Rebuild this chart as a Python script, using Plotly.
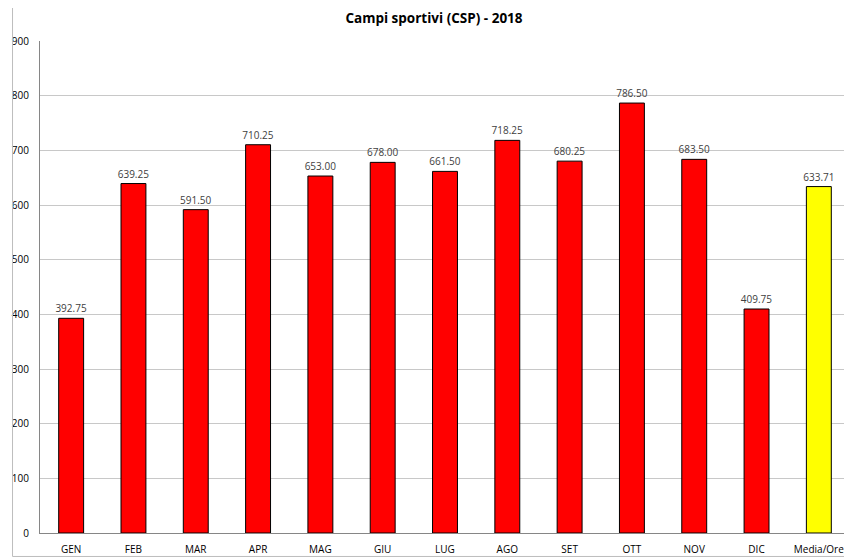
import plotly.graph_objects as go

categories = ["GEN", "FEB", "MAR", "APR", "MAG", "GIU", "LUG", "AGO", "SET", "OTT", "NOV", "DIC", "Media/Ore"]
values = [392.75, 639.25, 591.50, 710.25, 653.00, 678.00, 661.50, 718.25, 680.25, 786.50, 683.50, 409.75, 633.71]
colors = ["#FF0000"] * 12 + ["#FFFF00"]
y_ticks = [0, 100, 200, 300, 400, 500, 600, 700, 800, 900]

# page body has an 8px margin; compensate so the screenshot lines up
OFF = 8
W, H = 852, 559
L, R, T, B = 39.5 - OFF, 850 - OFF, 41 - OFF, 533.5 - OFF

FONT = "Open Sans, Liberation Sans, sans-serif"

fig = go.Figure(go.Bar(
    x=categories, y=values,
    marker=dict(color=colors, line=dict(color="#000000", width=1)),
    text=[f"{v:.2f}" for v in values],
    textposition="outside",
    constraintext="none",
    textfont=dict(family=FONT, size=10, color="#404040"),
    cliponaxis=False,
    width=0.4,
))

pw = R - L
ph = B - T
fig.update_layout(
    width=W, height=H,
    margin=dict(l=L, r=W - R, t=T, b=H - B, pad=0, autoexpand=False),
    paper_bgcolor="white", plot_bgcolor="white",
    showlegend=False,
    title=dict(text="<b>Campi sportivi (CSP) - 2018</b>", x=(434 - OFF) / W, xanchor="center",
               y=1 - (18 - OFF) / H, yanchor="middle",
               font=dict(family=FONT, size=13.5, color="#000000")),
    xaxis=dict(showline=True, linecolor="#868686", linewidth=1, ticks="", showgrid=False,
               tickfont=dict(family=FONT, size=10, color="#000000"),
               ticklabelstandoff=7, automargin=False,
               range=[-0.5, 12.5]),
    yaxis=dict(range=[0, 900], tickvals=y_ticks, showline=True, linecolor="#868686", linewidth=1,
               showgrid=True, gridcolor="#C8C8C8", gridwidth=1, ticks="", zeroline=False,
               ticklabelstandoff=8, automargin=False,
               tickfont=dict(family=FONT, size=10, color="#000000")),
    bargap=0.6,
    shapes=[dict(type="rect", xref="paper", yref="paper",
                 x0=(12 - OFF - L) / pw, x1=(870 - L) / pw,
                 y0=(B - (557 - OFF)) / ph, y1=(B - (3 - OFF)) / ph,
                 line=dict(color="#BDBDBD", width=1), fillcolor="rgba(0,0,0,0)", layer="above")],
)

fig.write_html("out.html")
